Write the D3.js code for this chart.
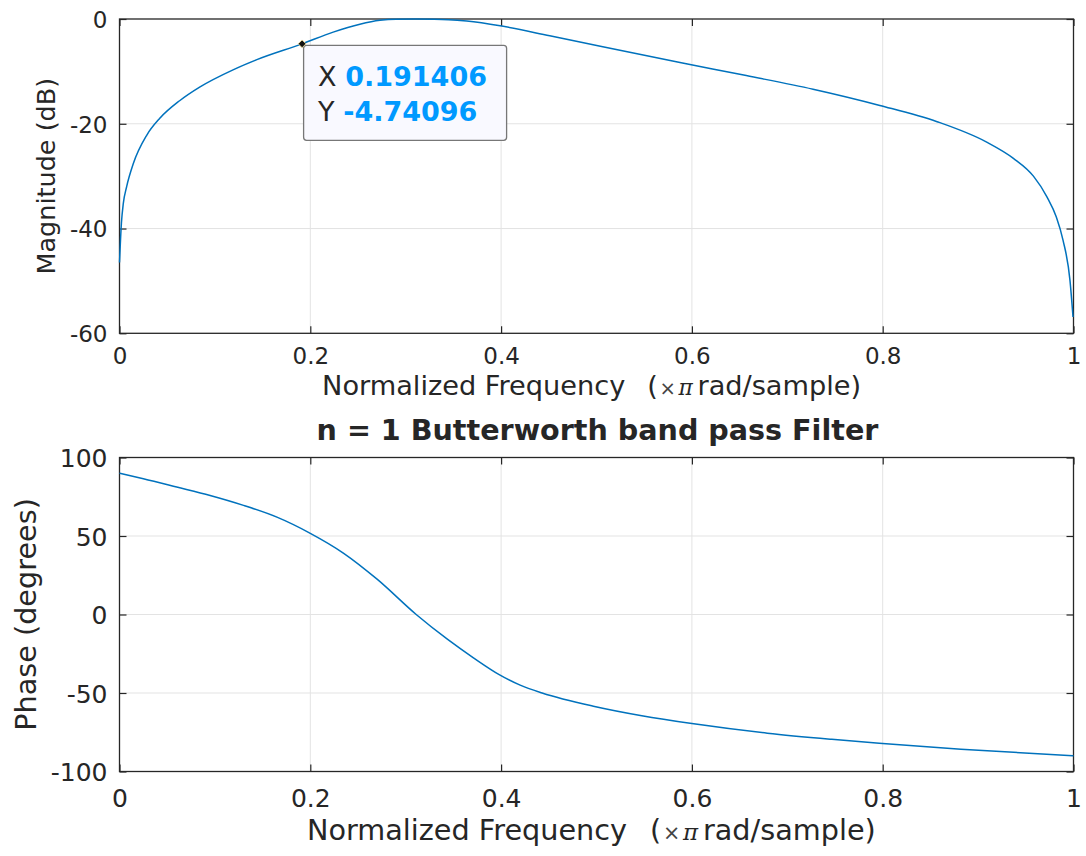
<!DOCTYPE html>
<html>
<head>
<meta charset="utf-8">
<script src="https://cdn.jsdelivr.net/npm/d3@7"></script>
<style>
  html, body { margin: 0; padding: 0; background: #fff; }
  svg { display: block; }
  text { font-family: "DejaVu Sans", sans-serif; fill: #262626; }
</style>
</head>
<body>
<svg id="chart" width="1086" height="856"></svg>
<script>
// ---- data ----
const xTicks = [0, 0.2, 0.4, 0.6, 0.8, 1];
const xTickLabels = ["0", "0.2", "0.4", "0.6", "0.8", "1"];
const magTicks = [0, -20, -40, -60];
const phaseTicks = [100, 50, 0, -50, -100];

const magFreq = [0, 0.002, 0.004, 0.0075, 0.0145, 0.0285, 0.042, 0.063, 0.084, 0.119, 0.144, 0.1914,
  0.224, 0.252, 0.273, 0.29, 0.31, 0.33, 0.345, 0.364, 0.399, 0.451, 0.504, 0.5875, 0.657, 0.727,
  0.797, 0.857, 0.909, 0.937, 0.958, 0.972, 0.982, 0.989, 0.9963, 0.9995];
const magDb = [-46.5, -39, -35.2, -32, -27.6, -22.2, -19.0, -15.6, -13.0, -9.7, -7.75, -4.74,
  -2.5, -1.0, -0.25, -0.03, 0, -0.03, -0.12, -0.4, -1.3, -3.2, -5.2, -8.3, -10.8, -13.4,
  -16.5, -19.6, -23.5, -26.6, -30.0, -33.9, -37.8, -42.2, -49.9, -56.9];

const phaseFreq = [0, 0.025, 0.06, 0.095, 0.13, 0.165, 0.2, 0.235, 0.27, 0.311, 0.344, 0.371, 0.398,
  0.42, 0.443, 0.498, 0.5475, 0.6, 0.679, 0.7466, 0.7964, 0.882, 1.0];
const phaseDeg = [90, 86.5, 81.2, 75.8, 69.5, 62.0, 51.7, 39.0, 22.5, 0, -15.9, -27.6, -38.3,
  -45.0, -50, -58.6, -64.5, -69.5, -75.6, -79.5, -82, -85.8, -90];

const tipX = 0.191406, tipY = -4.74096;
const titleText = "n = 1 Butterworth band pass Filter";
const xLabelParts = ["Normalized Frequency", "(", "\u00D7", "\u03C0", "rad/sample)"];
const xLabelOffsets = [-289.5, 53.5, 66.5, 86.5, 106.5];

// ---- layout ----
const svg = d3.select("#chart");
const L = 119.5, R = 1073.5, C = (L + R) / 2;
const lineColor = "#0072BD", axisColor = "#262626", gridColor = "#e3e3e3";
const x = d3.scaleLinear().domain([0, 1]).range([L, R]);

function panel(o) {
  const { top, bottom, yDomain, yTicks, fr, vals, yLabel, yLabelX, yLabelSize,
          tickSize, tickBase, xlabBase, xlabSize, xlabScale } = o;
  const y = d3.scaleLinear().domain(yDomain).range([bottom, top]);
  const g = svg.append("g");
  g.selectAll(".gx").data(xTicks.slice(1, -1)).enter().append("line")
    .attr("x1", d => x(d)).attr("x2", d => x(d)).attr("y1", top).attr("y2", bottom)
    .attr("stroke", gridColor).attr("stroke-width", 1);
  g.selectAll(".gy").data(yTicks.slice(1, -1)).enter().append("line")
    .attr("y1", d => y(d)).attr("y2", d => y(d)).attr("x1", L).attr("x2", R)
    .attr("stroke", gridColor).attr("stroke-width", 1);
  const ax = d3.axisBottom(x).tickValues(xTicks).tickSize(-7).tickFormat((d, i) => xTickLabels[i]);
  const axT = d3.axisTop(x).tickValues(xTicks).tickSize(-7).tickFormat("");
  const ay = d3.axisLeft(y).tickValues(yTicks).tickSize(-7).tickFormat(d => d);
  const ayR = d3.axisRight(y).tickValues(yTicks).tickSize(-7).tickFormat("");
  const gx = g.append("g").attr("transform", `translate(0,${bottom})`).call(ax);
  const gxT = g.append("g").attr("transform", `translate(0,${top})`).call(axT);
  const gy = g.append("g").attr("transform", `translate(${L},0)`).call(ay);
  const gyR = g.append("g").attr("transform", `translate(${R},0)`).call(ayR);
  [gx, gxT, gy, gyR].forEach(a => {
    a.select(".domain").remove();
    a.selectAll(".tick line").attr("stroke", axisColor).attr("stroke-width", 1.2);
    a.selectAll("text").attr("fill", axisColor).style("font-size", tickSize + "px")
      .style("font-family", "DejaVu Sans, sans-serif");
  });
  gx.selectAll(".tick text").attr("dy", null).attr("y", tickBase - bottom);
  gy.selectAll(".tick text").attr("x", -12).attr("dy", "0.36em");
  g.append("rect").attr("x", L).attr("y", top).attr("width", R - L).attr("height", bottom - top)
    .attr("fill", "none").attr("stroke", axisColor).attr("stroke-width", 1.3);
  const line = d3.line().x(d => x(d[0])).y(d => y(d[1])).curve(d3.curveMonotoneX);
  g.append("path").datum(fr.map((f, i) => [f, vals[i]]))
    .attr("d", line).attr("fill", "none").attr("stroke", lineColor).attr("stroke-width", 1.5);
  // x label built from parts (TeX-like spacing)
  const xl = g.append("text").attr("y", xlabBase).style("font-size", xlabSize + "px");
  xLabelParts.forEach((p, i) => {
    const ts = xl.append("tspan").attr("x", C + xLabelOffsets[i] * xlabScale).text(p);
    if (i === 2) ts.style("font-size", (xlabSize * 0.72) + "px").attr("fill", "#444");
    if (i === 3) ts.style("font-family", "DejaVu Serif, serif").style("font-style", "italic")
      .style("font-size", (xlabSize * 0.8) + "px");
  });
  g.append("text").attr("transform", `translate(${yLabelX},${(top + bottom) / 2}) rotate(-90)`)
    .attr("text-anchor", "middle").style("font-size", yLabelSize + "px").text(yLabel);
  return { y, g };
}

const top1 = panel({ top: 19, bottom: 333.3, yDomain: [-60, 0], yTicks: magTicks, fr: magFreq, vals: magDb,
  yLabel: "Magnitude (dB)", yLabelX: 55, yLabelSize: 25.5, tickSize: 23, tickBase: 364,
  xlabBase: 395, xlabSize: 27.2, xlabScale: 0.948 });
const bot = panel({ top: 457.5, bottom: 771.5, yDomain: [-100, 100], yTicks: phaseTicks, fr: phaseFreq, vals: phaseDeg,
  yLabel: "Phase (degrees)", yLabelX: 35.5, yLabelSize: 28.7, tickSize: 25, tickBase: 806.5,
  xlabBase: 840, xlabSize: 28.7, xlabScale: 1 });

// title
svg.append("text").attr("x", C + 1).attr("y", 440).attr("text-anchor", "middle")
  .style("font-size", "28.6px").style("font-weight", "bold").attr("fill", "#000").text(titleText);

// data tip
const tx = x(tipX), ty = top1.y(tipY);
const tip = svg.append("g");
tip.append("rect").attr("x", tx + 1.5).attr("y", ty + 1.5).attr("width", 203).attr("height", 95)
  .attr("rx", 3).attr("fill", "#f9f9ff").attr("stroke", "#777").attr("stroke-width", 1.3);
tip.append("path").attr("d", d3.symbol().type(d3.symbolSquare).size(30)())
  .attr("transform", `translate(${tx},${ty}) rotate(45)`).attr("fill", "#111")
  .attr("stroke", "#eedd99").attr("stroke-width", 0.8);
const t1 = tip.append("text").attr("x", tx + 16).attr("y", ty + 42).style("font-size", "27px");
t1.append("tspan").attr("fill", "#262626").text("X ");
t1.append("tspan").attr("fill", "#0099ff").style("font-weight", "bold").text(String(tipX));
const t2 = tip.append("text").attr("x", tx + 16).attr("y", ty + 77).style("font-size", "27px");
t2.append("tspan").attr("fill", "#262626").text("Y ");
t2.append("tspan").attr("fill", "#0099ff").style("font-weight", "bold").text(String(tipY));
</script>
</body>
</html>
